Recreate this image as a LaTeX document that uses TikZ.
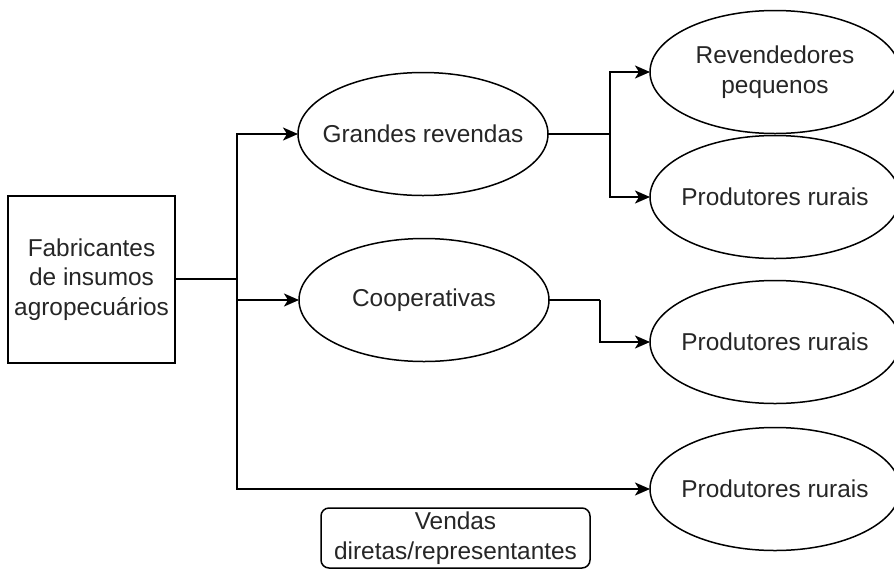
\documentclass[tikz,border=0pt]{standalone}
\usepackage{fontspec}
\setmainfont{Liberation Sans}
\usetikzlibrary{shapes.geometric,arrows.meta}
\begin{document}
\begin{tikzpicture}[x=1pt,y=-1pt,
  every node/.style={font=\fontsize{24.4}{29.5}\selectfont, text=black!85, align=center, inner sep=0pt, outer sep=0pt},
  every label/.style={font=\fontsize{24.4}{29.5}\selectfont, text=black!85, align=center, inner sep=0pt},
  oval/.style={draw, ellipse, line width=1.5pt, minimum width=250pt, minimum height=123pt},
  boxnode/.style={draw, rectangle, line width=1.8pt, minimum width=167pt, minimum height=167pt},
  labelbox/.style={draw, rectangle, rounded corners=8pt, line width=1.5pt, minimum width=269pt, minimum height=60pt},
  conn/.style={line width=2pt},
  arr/.style={conn, -{Stealth[length=15pt, width=13pt, inset=4pt]}}
]
\clip (0,0) rectangle (894,571);
\fill[white] (0,0) rectangle (894,571);

\node[boxnode] (fab) at (91.5,279.5) {Fabricantes\\de insumos\\agropecuários};
\node[oval, label={center:Grandes revendas}] (gr) at (423,134) {};
\node[oval, label={center:Cooperativas}] (coop) at (424,300) {};
\node[oval, label={center:Revendedores\\pequenos}] (rev) at (775,72) {};
\node[oval, label={center:Produtores rurais}] (pr1) at (775,197) {};
\node[oval, label={center:Produtores rurais}] (pr2) at (775,342) {};
\node[oval, label={center:Produtores rurais}] (pr3) at (775,489) {};
\node[labelbox] (vd) at (455.5,538) {Vendas\\diretas/representantes};

\coordinate (j) at (237,279);
\coordinate (k) at (610,134);
\coordinate (m) at (600,300);

\draw[conn] (fab.east |- j) -- (j);
\draw[arr] (j) |- (gr.west);
\draw[arr] (j) |- (coop.west);
\draw[arr] (j) |- (pr3.west);

\draw[conn] (gr.east) -- (k);
\draw[arr] (k) |- (rev.west);
\draw[arr] (k) |- (pr1.west);

\draw[conn] (coop.east) -- (m);
\draw[arr] (m) |- (pr2.west);
\end{tikzpicture}
\end{document}
